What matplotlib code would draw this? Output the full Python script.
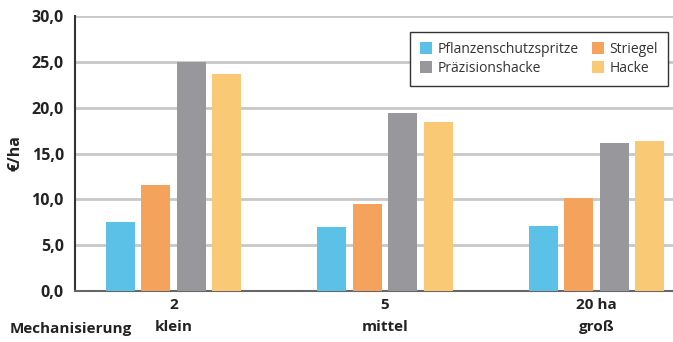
import numpy as np
import matplotlib.pyplot as plt
from matplotlib.patches import Patch

plt.rcParams['font.family'] = ['Open Sans', 'DejaVu Sans']

# groups and series
groups = ["2\nklein", "5\nmittel", "20 ha\ngroß"]
series = ["Pflanzenschutzspritze", "Striegel", "Präzisionshacke", "Hacke"]
spritze = [7.5, 7.0, 7.1]
striegel = [11.6, 9.5, 10.1]
praezision = [25.0, 19.4, 16.1]
hacke = [23.7, 18.4, 16.4]
colors = ["#5bc1e6", "#f5a35c", "#98989c", "#f9c975"]
yticks = [0, 5, 10, 15, 20, 25, 30]

fig = plt.figure(figsize=(6.73, 3.42), dpi=100)
ax = fig.add_axes([0.1114, 0.149, 0.888, 0.804])

x = np.arange(len(groups))
width = 0.137
step = 0.168
for i, (vals, c) in enumerate(zip([spritze, striegel, praezision, hacke], colors)):
    ax.bar(x + (i - 1.5) * step, vals, width, color=c, zorder=3)

ax.set_ylim(0, 30)
ax.set_xlim(-0.467, 2.36)
ax.set_yticks(yticks)
ax.set_yticklabels([f"{v:.1f}".replace(".", ",") for v in yticks],
                   fontsize=11.5, fontweight="bold", color="#222222")
ax.yaxis.grid(True, color="#c8c8c8", linewidth=2, zorder=0)
ax.tick_params(axis="y", length=0, pad=8)
ax.tick_params(axis="x", length=0, pad=5)
ax.set_xticks(x)
ax.set_xticklabels(groups, fontsize=11, fontweight="bold", color="#222222",
                   linespacing=1.7)

for s in ["top", "right"]:
    ax.spines[s].set_visible(False)
ax.spines["left"].set_color("#333333")
ax.spines["left"].set_linewidth(1.5)
ax.spines["bottom"].set_color("#666666")
ax.spines["bottom"].set_linewidth(1.5)

ax.set_ylabel("€/ha", fontsize=11.5, fontweight="bold", color="#222222", labelpad=6)
fig.text(0.015, 0.038, "Mechanisierung", fontsize=11, fontweight="bold",
         color="#222222", va="center")

# legend fills column-wise, so order entries to read row by row
order = [0, 2, 1, 3]
handles = [Patch(facecolor=colors[k], edgecolor="none") for k in order]
labels = [series[k] for k in order]
leg = ax.legend(handles, labels, ncol=2, loc="upper right",
                bbox_to_anchor=(0.992, 0.942), borderaxespad=0, fontsize=10,
                frameon=True, fancybox=False, edgecolor="#333333", framealpha=1,
                handlelength=0.9, handleheight=0.9, handletextpad=0.4,
                columnspacing=0.9, labelspacing=0.3, borderpad=0.7)
leg.get_frame().set_linewidth(1.0)
for t in leg.get_texts():
    t.set_color("#333333")

fig.savefig("out.png", dpi=100)
